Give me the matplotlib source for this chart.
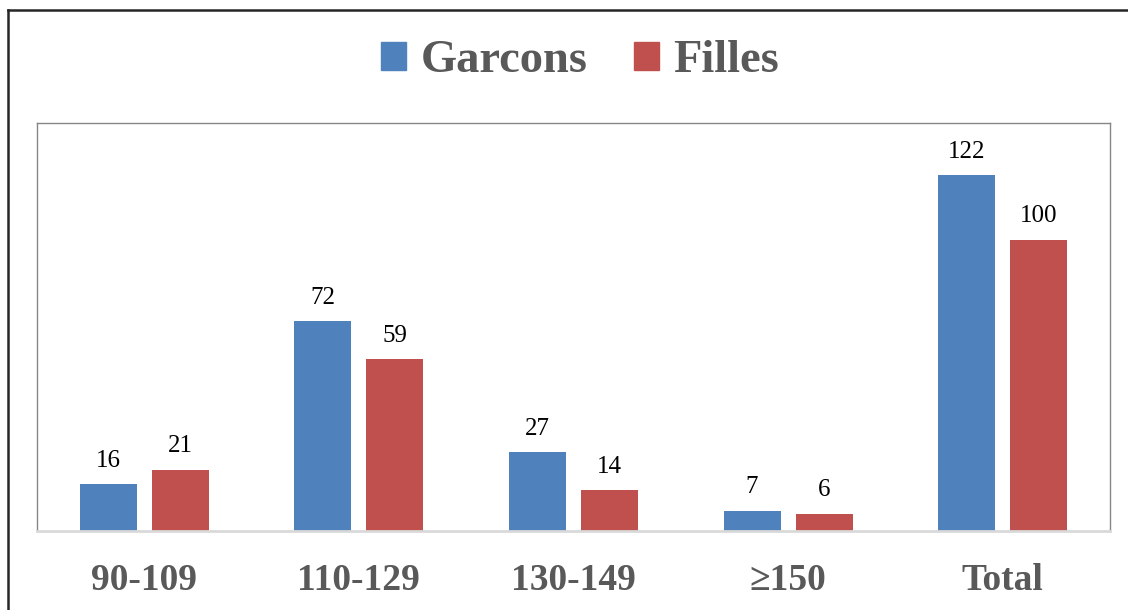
import numpy as np
import matplotlib.pyplot as plt
from matplotlib.patches import Patch
from matplotlib.lines import Line2D

plt.rcParams['font.family'] = ['Liberation Serif', 'DejaVu Serif']

categories = ["90-109", "110-129", "130-149", "≥150", "Total"]
garcons = [16, 72, 27, 7, 122]
filles = [21, 59, 14, 6, 100]

BLUE = "#4F81BD"
RED = "#C0504D"
W, H = 1128, 610

fig = plt.figure(figsize=(W / 100, H / 100), dpi=100)
ax = fig.add_axes([37 / W, (H - 531) / H, (1110 - 37) / W, (531 - 123) / H])

x = np.arange(len(categories))
bw = 0.266
off = 0.168
b1 = ax.bar(x - off, garcons, bw, color=BLUE, label="Garcons")
b2 = ax.bar(x + off, filles, bw, color=RED, label="Filles")
for b in (b1, b2):
    ax.bar_label(b, padding=9, fontsize=18, color="black")

ax.set_xlim(-0.5, len(categories) - 0.5)
ax.set_ylim(0, 140)
ax.set_yticks([])
ax.set_xticks(x)
ax.set_xticklabels(categories, fontsize=27, fontweight="bold", color="#595959")
ax.tick_params(axis="x", length=0, pad=23)
for s in ("top", "right", "left"):
    ax.spines[s].set_color("#868686")
    ax.spines[s].set_linewidth(1)
ax.spines["bottom"].set_color("#D9D9D9")
ax.spines["bottom"].set_linewidth(2)

handles = [Patch(color=BLUE), Patch(color=RED)]
fig.legend(handles, ["Garcons", "Filles"], loc="center", ncol=2,
           bbox_to_anchor=(580 / W, 1 - 61 / H), frameon=False,
           prop={"size": 33.5, "weight": "bold"}, labelcolor="#595959",
           handlelength=0.55, handleheight=0.55, handletextpad=0.3,
           columnspacing=1.0)

# outer chart frame (only left and top visible)
fig.add_artist(Line2D([8 / W, 8 / W], [0, 1 - 10 / H], transform=fig.transFigure,
                      color="#262626", lw=1.8))
fig.add_artist(Line2D([8 / W, 1], [1 - 10 / H, 1 - 10 / H], transform=fig.transFigure,
                      color="#262626", lw=1.8))

fig.savefig("out.png", dpi=100)
